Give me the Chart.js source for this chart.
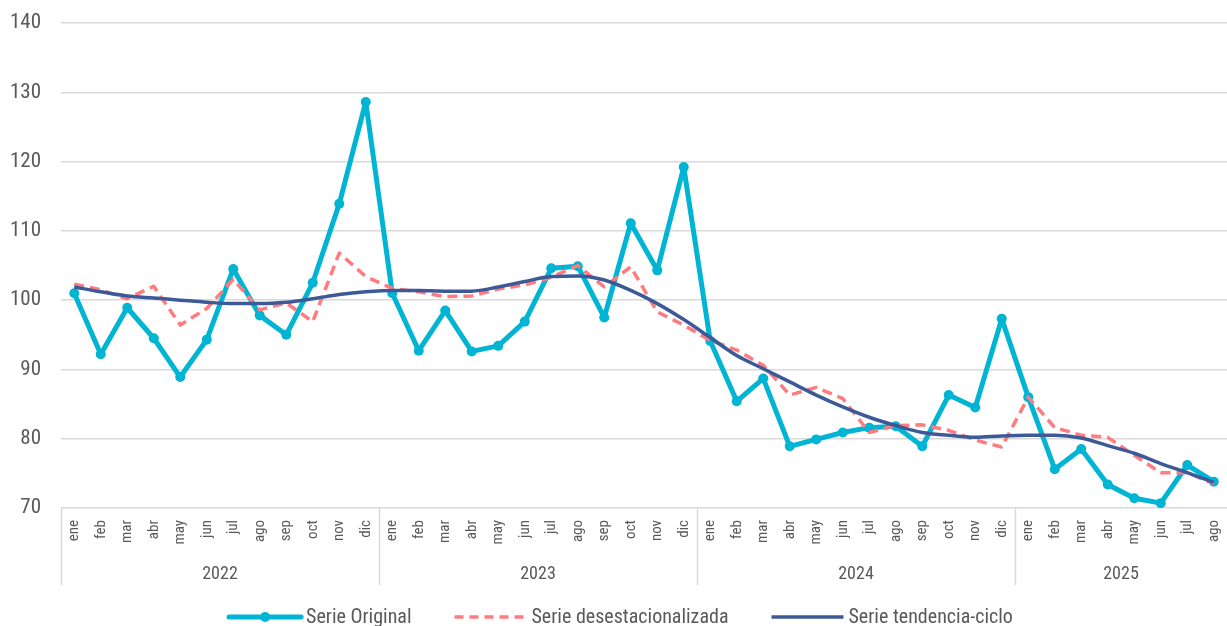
<!DOCTYPE html>
<html>
<head>
<meta charset="utf-8">
<script src="https://cdn.jsdelivr.net/npm/chart.js@4.4.1/dist/chart.umd.min.js"></script>
<style>
  html, body { margin: 0; padding: 0; background: #ffffff; overflow: hidden; }
  #wrap { width: 1227px; height: 626px; position: relative; overflow: hidden; }
</style>
</head>
<body>
<div id="wrap"><canvas id="c" width="1232" height="626"></canvas></div>
<script>
const months = ['ene','feb','mar','abr','may','jun','jul','ago','sep','oct','nov','dic'];
const years = ['2022','2023','2024','2025'];
const monthsPerYear = [12, 12, 12, 8];
const categories = [].concat(months, months, months, months.slice(0, 8));

const serieOriginal = [
  101.0, 92.2, 98.9, 94.5, 88.9, 94.3, 104.5, 97.8, 95.0, 102.5, 113.9, 128.6,
  101.0, 92.7, 98.5, 92.6, 93.4, 96.9, 104.6, 104.9, 97.5, 111.1, 104.3, 119.2,
  94.1, 85.4, 88.7, 78.9, 79.9, 80.9, 81.6, 81.8, 78.9, 86.3, 84.5, 97.3,
  86.0, 75.6, 78.5, 73.4, 71.4, 70.7, 76.2, 73.8
];
const serieDesest = [
  102.3, 101.5, 100.2, 102.0, 96.4, 98.8, 103.0, 98.6, 99.6, 96.9, 106.8, 103.4,
  101.7, 101.2, 100.5, 100.6, 101.6, 102.2, 103.3, 105.0, 101.9, 104.8, 98.3, 96.4,
  94.2, 92.8, 90.6, 86.3, 87.4, 85.8, 80.9, 81.9, 82.0, 81.2, 79.8, 78.8,
  86.0, 81.6, 80.5, 80.2, 77.6, 75.1, 75.1, 73.5
];
const serieTendencia = [
  101.9, 101.2, 100.6, 100.3, 100.0, 99.7, 99.5, 99.5, 99.7, 100.2, 100.8, 101.2,
  101.4, 101.4, 101.3, 101.3, 101.9, 102.7, 103.4, 103.5, 102.9, 101.4, 99.5, 97.2,
  94.6, 92.0, 90.1, 88.2, 86.3, 84.6, 83.1, 81.9, 80.9, 80.5, 80.2, 80.4,
  80.5, 80.5, 80.1, 79.0, 77.9, 76.4, 75.1, 73.7
];
const yTicks = [70, 80, 90, 100, 110, 120, 130, 140];
const seriesNames = ['Serie Original', 'Serie desestacionalizada', 'Serie tendencia-ciclo'];

const FONT = "'Roboto Condensed', Roboto, 'Liberation Sans', sans-serif";
const TXT = '#595959';
const GRID = '#d9d9d9';
const C_ORIG = '#00b4d4';
const C_DES = '#ff7b7f';
const C_TEN = '#3d5a98';

const extrasPlugin = {
  id: 'extras',
  afterDraw(chart) {
    const ctx = chart.ctx;
    const xs = chart.scales.x;
    const area = chart.chartArea;
    const sepBottom = 585;
    ctx.save();
    const bounds = [xs.left];
    let idx = 0;
    for (let k = 0; k < monthsPerYear.length; k++) {
      idx += monthsPerYear[k];
      if (idx >= categories.length) bounds.push(xs.right);
      else bounds.push((xs.getPixelForValue(idx - 1) + xs.getPixelForValue(idx)) / 2);
    }
    ctx.strokeStyle = GRID;
    ctx.lineWidth = 1.5;
    bounds.forEach((b, i) => {
      if (i === bounds.length - 1) return;
      const x = Math.round(b) + 0.5;
      ctx.beginPath();
      ctx.moveTo(x, area.bottom);
      ctx.lineTo(x, sepBottom);
      ctx.stroke();
    });
    ctx.fillStyle = TXT;
    ctx.font = '18px ' + FONT;
    ctx.textAlign = 'center';
    ctx.textBaseline = 'middle';
    for (let k = 0; k < years.length; k++) {
      ctx.fillText(years[k], (bounds[k] + bounds[k + 1]) / 2, 574);
    }
    const colors = [C_ORIG, C_DES, C_TEN];
    const widths = [5, 3.5, 3.5];
    const dashes = [[], [9, 6], []];
    ctx.font = '20px ' + FONT;
    ctx.textAlign = 'left';
    const lineLen = 72, gapLT = 5, gapItem = 43;
    const tw = seriesNames.map(s => ctx.measureText(s).width);
    const total = 3 * lineLen + 3 * gapLT + tw.reduce((a, b) => a + b, 0) + 2 * gapItem;
    let x = 621 - total / 2;
    const ly = 617;
    for (let i = 0; i < 3; i++) {
      ctx.strokeStyle = colors[i];
      ctx.lineWidth = widths[i];
      ctx.lineCap = i === 0 ? 'round' : 'butt';
      ctx.setLineDash(dashes[i]);
      ctx.beginPath();
      ctx.moveTo(x, ly);
      ctx.lineTo(x + lineLen, ly);
      ctx.stroke();
      ctx.setLineDash([]);
      if (i === 0) {
        ctx.fillStyle = colors[0];
        ctx.beginPath();
        ctx.arc(x + lineLen / 2, ly, 5, 0, Math.PI * 2);
        ctx.fill();
      }
      x += lineLen + gapLT;
      ctx.fillStyle = TXT;
      ctx.fillText(seriesNames[i], x, ly + 1);
      x += tw[i] + gapItem;
    }
    ctx.restore();
  }
};

new Chart(document.getElementById('c'), {
  type: 'line',
  data: {
    labels: categories,
    datasets: [
      {
        label: seriesNames[0],
        data: serieOriginal,
        borderColor: C_ORIG,
        backgroundColor: C_ORIG,
        borderWidth: 5,
        borderJoinStyle: 'round',
        borderCapStyle: 'round',
        pointRadius: 5,
        pointBorderWidth: 0,
        pointBackgroundColor: C_ORIG,
        tension: 0,
        order: 3
      },
      {
        label: seriesNames[1],
        data: serieDesest,
        borderColor: C_DES,
        backgroundColor: C_DES,
        borderWidth: 3.5,
        borderDash: [10, 6],
        borderJoinStyle: 'round',
        pointRadius: 0,
        tension: 0,
        order: 2
      },
      {
        label: seriesNames[2],
        data: serieTendencia,
        borderColor: C_TEN,
        backgroundColor: C_TEN,
        borderWidth: 3.5,
        borderJoinStyle: 'round',
        pointRadius: 0,
        cubicInterpolationMode: 'monotone',
        order: 1
      }
    ]
  },
  options: {
    responsive: false,
    animation: false,
    devicePixelRatio: 1,
    layout: { padding: { top: 23, right: 0, left: 0, bottom: 38 } },
    plugins: {
      legend: { display: false },
      tooltip: { enabled: false }
    },
    scales: {
      x: {
        type: 'category',
        offset: true,
        grid: { display: false, drawTicks: false },
        border: { display: false },
        ticks: {
          autoSkip: false,
          minRotation: 90,
          maxRotation: 90,
          padding: 12,
          color: TXT,
          font: { family: FONT, size: 15 }
        },
        afterFit(scale) {
          scale.height = 80;
          scale.paddingLeft = 0;
          scale.paddingRight = 0;
        }
      },
      y: {
        min: 70,
        max: 140,
        afterBuildTicks(scale) { scale.ticks = yTicks.map(v => ({ value: v })); },
        grid: { color: GRID, lineWidth: 1.5, drawTicks: false },
        border: { display: false },
        ticks: {
          padding: 20,
          color: TXT,
          font: { family: FONT, size: 21 }
        },
        afterFit(scale) {
          scale.width = 61;
          scale.paddingTop = 0;
          scale.paddingBottom = 0;
        }
      }
    }
  },
  plugins: [extrasPlugin]
});
</script>
</body>
</html>
